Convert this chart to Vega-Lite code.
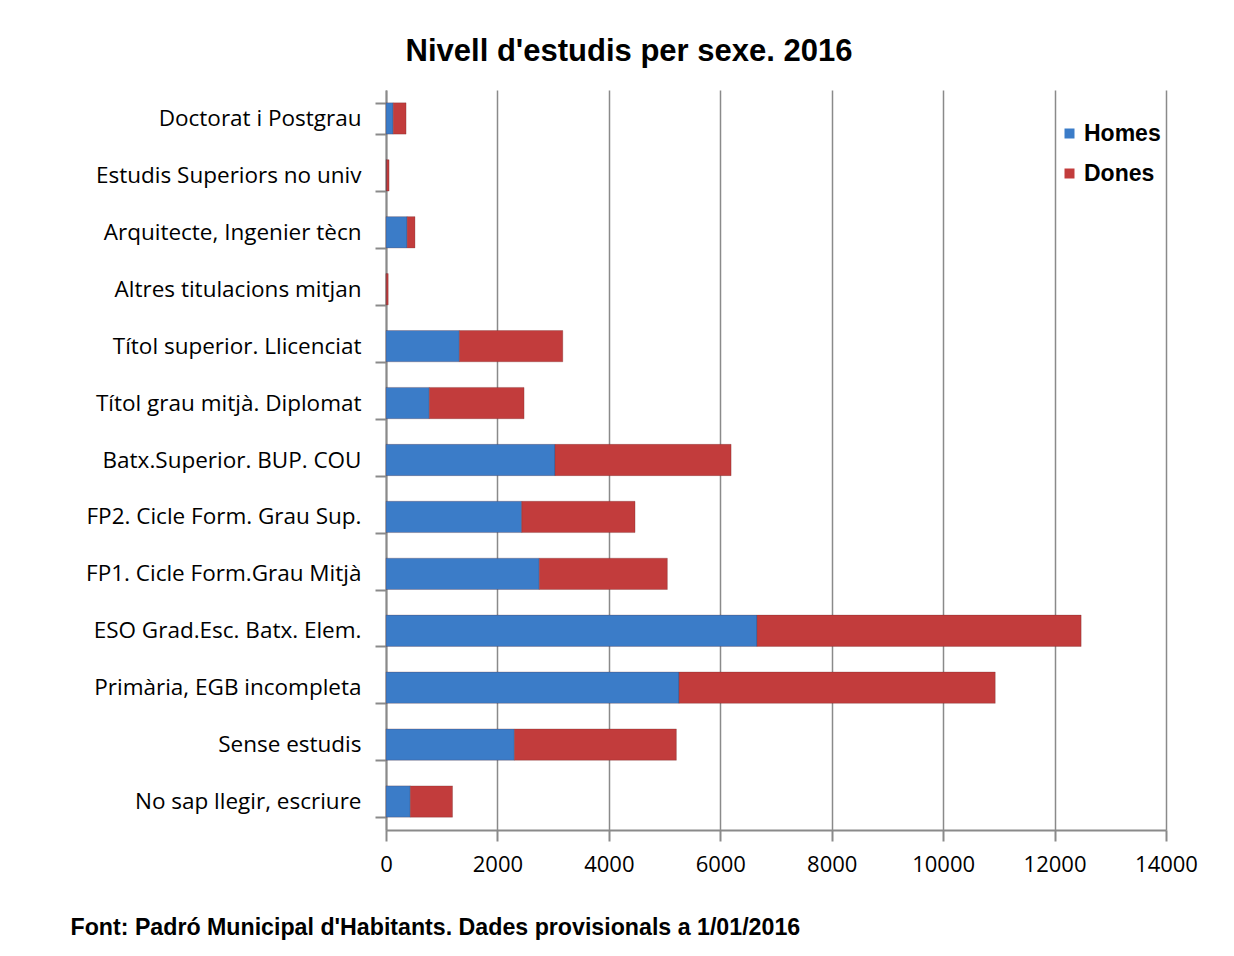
{
  "$schema": "https://vega.github.io/schema/vega-lite/v6.json",
  "autosize": {"type": "none"},
  "width": 780,
  "height": 740,
  "padding": {"left": 386, "top": 90, "right": 68, "bottom": 126},
  "background": "white",
  "title": {
    "text": "Nivell d'estudis per sexe. 2016",
    "font": "Liberation Sans",
    "fontSize": 31,
    "fontWeight": "bold",
    "color": "#000000",
    "anchor": "middle",
    "dx": -147,
    "offset": 11
  },
  "data": {
    "values": [
      {"nivell": "Doctorat i Postgrau", "sexe": "Homes", "n": 130},
      {"nivell": "Doctorat i Postgrau", "sexe": "Dones", "n": 230},
      {"nivell": "Estudis Superiors no univ", "sexe": "Homes", "n": 10},
      {"nivell": "Estudis Superiors no univ", "sexe": "Dones", "n": 45},
      {"nivell": "Arquitecte, Ingenier tècn", "sexe": "Homes", "n": 380},
      {"nivell": "Arquitecte, Ingenier tècn", "sexe": "Dones", "n": 140},
      {"nivell": "Altres titulacions mitjan", "sexe": "Homes", "n": 5},
      {"nivell": "Altres titulacions mitjan", "sexe": "Dones", "n": 35},
      {"nivell": "Títol superior. Llicenciat", "sexe": "Homes", "n": 1318},
      {"nivell": "Títol superior. Llicenciat", "sexe": "Dones", "n": 1855},
      {"nivell": "Títol grau mitjà. Diplomat", "sexe": "Homes", "n": 778},
      {"nivell": "Títol grau mitjà. Diplomat", "sexe": "Dones", "n": 1700},
      {"nivell": "Batx.Superior. BUP. COU", "sexe": "Homes", "n": 3034},
      {"nivell": "Batx.Superior. BUP. COU", "sexe": "Dones", "n": 3160},
      {"nivell": "FP2. Cicle Form. Grau Sup.", "sexe": "Homes", "n": 2436},
      {"nivell": "FP2. Cicle Form. Grau Sup.", "sexe": "Dones", "n": 2034},
      {"nivell": "FP1. Cicle Form.Grau Mitjà", "sexe": "Homes", "n": 2752},
      {"nivell": "FP1. Cicle Form.Grau Mitjà", "sexe": "Dones", "n": 2298},
      {"nivell": "ESO Grad.Esc. Batx. Elem.", "sexe": "Homes", "n": 6660},
      {"nivell": "ESO Grad.Esc. Batx. Elem.", "sexe": "Dones", "n": 5817},
      {"nivell": "Primària, EGB incompleta", "sexe": "Homes", "n": 5260},
      {"nivell": "Primària, EGB incompleta", "sexe": "Dones", "n": 5675},
      {"nivell": "Sense estudis", "sexe": "Homes", "n": 2305},
      {"nivell": "Sense estudis", "sexe": "Dones", "n": 2907},
      {"nivell": "No sap llegir, escriure", "sexe": "Homes", "n": 437},
      {"nivell": "No sap llegir, escriure", "sexe": "Dones", "n": 757}
    ]
  },
  "mark": {"type": "bar", "stroke": "#5a1a1a", "strokeOpacity": 0.25, "strokeWidth": 1},
  "encoding": {
    "y": {
      "field": "nivell",
      "type": "nominal",
      "sort": null,
      "scale": {"paddingInner": 0.45, "paddingOuter": 0.225},
      "axis": {
        "title": null,
        "labelFont": "Open Sans",
        "labelFontSize": 22.5,
        "labelColor": "#000000",
        "labelPadding": 14,
        "labelLimit": 400,
        "tickBand": "extent",
        "tickSize": 11,
        "tickColor": "#8a8a8a",
        "tickWidth": 2,
        "domainColor": "#8a8a8a",
        "domainWidth": 2,
        "grid": false
      }
    },
    "x": {
      "field": "n",
      "type": "quantitative",
      "stack": "zero",
      "scale": {"domain": [0, 14000], "nice": false},
      "axis": {
        "values": [0, 2000, 4000, 6000, 8000, 10000, 12000, 14000],
        "format": "d",
        "labelFont": "Open Sans",
        "labelFontSize": 22,
        "labelColor": "#000000",
        "labelPadding": 13,
        "labelFlush": false,
        "tickSize": 11,
        "tickColor": "#8a8a8a",
        "tickWidth": 2,
        "domainColor": "#8a8a8a",
        "domainWidth": 2,
        "grid": true,
        "gridColor": "#8a8a8a",
        "gridWidth": 1.5,
        "title": "Font: Padró Municipal d'Habitants. Dades provisionals a 1/01/2016",
        "titleFont": "Liberation Sans",
        "titleFontSize": 23.2,
        "titleFontWeight": "bold",
        "titleColor": "#000000",
        "titleAnchor": "start",
        "titleAlign": "left",
        "titleBaseline": "middle",
        "titleX": -316,
        "titleY": 97
      }
    },
    "color": {
      "field": "sexe",
      "type": "nominal",
      "scale": {"domain": ["Homes", "Dones"], "range": ["#3b7cc8", "#c23c3c"]},
      "legend": {
        "title": null,
        "orient": "none",
        "legendX": 672,
        "legendY": 32,
        "symbolType": "square",
        "symbolSize": 100,
        "symbolStrokeWidth": 0,
        "labelFont": "Liberation Sans",
        "labelFontSize": 23,
        "labelFontWeight": "bold",
        "labelColor": "#000000",
        "labelOffset": 3,
        "rowPadding": 16,
        "fillColor": "white"
      }
    },
    "order": {"field": "sexe", "sort": "descending"}
  },
  "config": {
    "view": {"stroke": null}
  }
}
